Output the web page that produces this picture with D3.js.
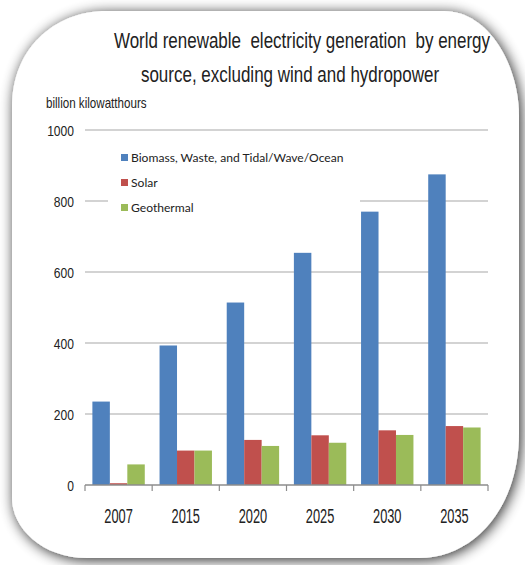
<!DOCTYPE html>
<html>
<head>
<meta charset="utf-8">
<script src="https://cdn.jsdelivr.net/npm/d3@7"></script>
<style>
  body { margin: 0; background: #fff; }
  svg { display: block; }
  .narrow { font-family: 'Liberation Sans', Arial, sans-serif; fill: #222; white-space: pre; }
</style>
</head>
<body>
<div id="chart"></div>
<script>
// Data
const years = ["2007", "2015", "2020", "2025", "2030", "2035"];
const seriesNames = ["Biomass, Waste, and Tidal/Wave/Ocean", "Solar", "Geothermal"];
const biomass = [235, 393, 514, 654, 770, 875];
const solar = [5, 97, 127, 140, 154, 166];
const geothermal = [58, 97, 110, 119, 141, 162];
const yTicks = [0, 200, 400, 600, 800, 1000];
const colors = ["#4f81bd", "#c0504d", "#9bbb59"];

const W = 525, H = 565;

const svg = d3.select("#chart").append("svg")
  .attr("width", W)
  .attr("height", H);

// drop shadow round the card
const defs = svg.append("defs");
const f = defs.append("filter").attr("id", "shadow")
  .attr("x", "-10%").attr("y", "-10%").attr("width", "120%").attr("height", "120%");
f.append("feGaussianBlur").attr("in", "SourceAlpha").attr("stdDeviation", 7).attr("result", "blur");
f.append("feOffset").attr("in", "blur").attr("dx", 2).attr("dy", 2).attr("result", "off");
f.append("feComponentTransfer").attr("in", "off").attr("result", "shade")
  .append("feFuncA").attr("type", "linear").attr("slope", 0.85);
const merge = f.append("feMerge");
merge.append("feMergeNode").attr("in", "shade");
merge.append("feMergeNode").attr("in", "SourceGraphic");

// card with uneven rounded corners
const L = 12, T = 11, R = 519, B = 558;
const card = d3.path();
card.moveTo(L + 95, T);
card.lineTo(R - 75, T);
card.bezierCurveTo(R - 30, T, R, T + 55, R, T + 105);
card.lineTo(R, B - 125);
card.bezierCurveTo(R, B - 50, R - 45, B, R - 100, B);
card.lineTo(L + 75, B);
card.bezierCurveTo(L + 30, B, L, B - 30, L, B - 60);
card.lineTo(L, T + 95);
card.bezierCurveTo(L, T + 40, L + 40, T, L + 95, T);
card.closePath();
svg.append("path")
  .attr("d", card.toString())
  .attr("fill", "#fff")
  .attr("filter", "url(#shadow)");

// condensed text: no narrow face is installed, so squeeze a normal one
function narrowText(parent, x, y, sx, size, anchor, str) {
  return parent.append("text")
    .attr("class", "narrow")
    .attr("transform", `translate(${x},${y}) scale(${sx},1)`)
    .attr("text-anchor", anchor)
    .attr("font-size", size)
    .text(str);
}

// title
narrowText(svg, 302, 48, 0.79, 21.5, "middle", "World renewable  electricity generation  by energy");
narrowText(svg, 290, 82, 0.79, 21.5, "middle", "source, excluding wind and hydropower");

narrowText(svg, 46, 108, 0.8, 14.5, "start", "billion kilowatthours");

// scales
const x0 = d3.scaleBand().domain(years).range([85, 488]).paddingInner(0.22).paddingOuter(0.11);
const x1 = d3.scaleBand().domain(seriesNames).range([0, x0.bandwidth()]);
const y = d3.scaleLinear().domain([0, 1000]).range([485, 130]);

// gridlines
svg.append("g").selectAll("line")
  .data(yTicks.filter(d => d > 0))
  .join("line")
  .attr("x1", 85).attr("x2", 488)
  .attr("y1", d => y(d)).attr("y2", d => y(d))
  .attr("stroke", "#c4c4c4").attr("stroke-width", 1.3);

// y tick labels
const yLab = svg.append("g");
yTicks.forEach(t => narrowText(yLab, 74, y(t) + 5.5, 0.78, 15.5, "end", String(t)));

// bars
const table = years.map((yr, i) => ({
  year: yr,
  values: [biomass[i], solar[i], geothermal[i]]
}));

const groups = svg.append("g").selectAll("g")
  .data(table)
  .join("g")
  .attr("transform", d => `translate(${x0(d.year)},0)`);

groups.selectAll("rect")
  .data(d => d.values.map((v, k) => ({ key: seriesNames[k], value: v, k })))
  .join("rect")
  .attr("x", d => x1(d.key))
  .attr("y", d => y(d.value))
  .attr("width", x1.bandwidth())
  .attr("height", d => y(0) - y(d.value))
  .attr("fill", d => colors[d.k]);

// x axis line and category-boundary ticks
const step = x0.step();
const bounds = years.map(yr => x0(yr) - step * 0.11).concat([488]);
const xAxis = svg.append("g");
xAxis.append("line")
  .attr("x1", 85).attr("x2", 488)
  .attr("y1", y(0)).attr("y2", y(0))
  .attr("stroke", "#8c8c8c").attr("stroke-width", 1.5);
xAxis.selectAll(".tick")
  .data(bounds)
  .join("line")
  .attr("class", "tick")
  .attr("x1", d => d).attr("x2", d => d)
  .attr("y1", y(0)).attr("y2", y(0) + 6)
  .attr("stroke", "#8c8c8c").attr("stroke-width", 1.2);
years.forEach(yr => narrowText(xAxis, x0(yr) + x0.bandwidth() / 2, 523, 0.64, 20, "middle", yr));

// legend with white box
const legend = svg.append("g");
legend.append("rect")
  .attr("x", 108).attr("y", 146)
  .attr("width", 252).attr("height", 74)
  .attr("fill", "#fff");
const items = legend.selectAll("g")
  .data(seriesNames)
  .join("g")
  .attr("transform", (d, i) => `translate(121,${158 + i * 25})`);
items.append("rect")
  .attr("x", 0).attr("y", -4)
  .attr("width", 7).attr("height", 7)
  .attr("fill", (d, i) => colors[i]);
items.append("text")
  .attr("x", 10).attr("y", 0)
  .attr("dy", "0.35em")
  .attr("font-family", "Lato, 'Open Sans', sans-serif")
  .attr("font-size", 12.1)
  .attr("fill", "#222")
  .text(d => d);
</script>
</body>
</html>
